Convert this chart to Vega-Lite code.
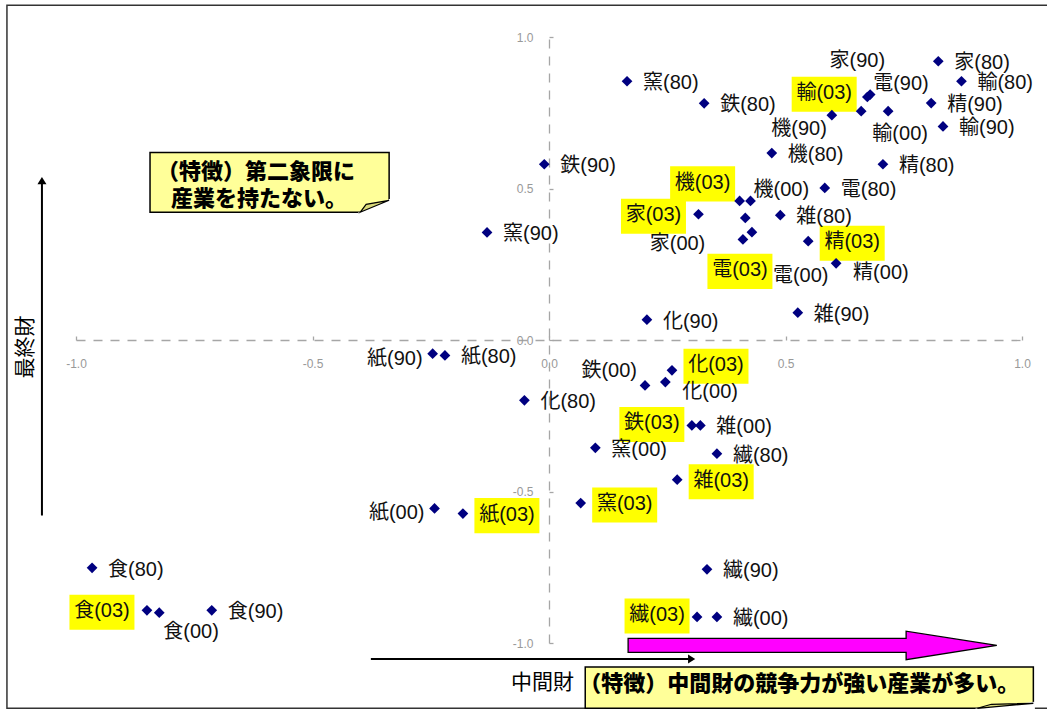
{
  "$schema": "https://vega.github.io/schema/vega-lite/v6.json",
  "width": 946,
  "height": 606,
  "autosize": {"type": "none"},
  "padding": {"left": 76, "top": 37, "right": 25, "bottom": 68},
  "config": {"view": {"stroke": null}, "font": "Liberation Sans, Noto Sans CJK JP"},
  "data": {"values": [
    {"ind": "食", "year": "80", "label": "食(80)", "x": -0.966, "y": -0.752},
    {"ind": "食", "year": "90", "label": "食(90)", "x": -0.713, "y": -0.892},
    {"ind": "食", "year": "00", "label": "食(00)", "x": -0.824, "y": -0.900},
    {"ind": "食", "year": "03", "label": "食(03)", "x": -0.850, "y": -0.892},
    {"ind": "繊", "year": "80", "label": "繊(80)", "x": 0.355, "y": -0.375},
    {"ind": "繊", "year": "90", "label": "繊(90)", "x": 0.334, "y": -0.757},
    {"ind": "繊", "year": "00", "label": "繊(00)", "x": 0.355, "y": -0.914},
    {"ind": "繊", "year": "03", "label": "繊(03)", "x": 0.313, "y": -0.914},
    {"ind": "紙", "year": "80", "label": "紙(80)", "x": -0.220, "y": -0.051},
    {"ind": "紙", "year": "90", "label": "紙(90)", "x": -0.246, "y": -0.045},
    {"ind": "紙", "year": "00", "label": "紙(00)", "x": -0.242, "y": -0.556},
    {"ind": "紙", "year": "03", "label": "紙(03)", "x": -0.182, "y": -0.573},
    {"ind": "化", "year": "80", "label": "化(80)", "x": -0.052, "y": -0.199},
    {"ind": "化", "year": "90", "label": "化(90)", "x": 0.207, "y": 0.067},
    {"ind": "化", "year": "00", "label": "化(00)", "x": 0.246, "y": -0.139},
    {"ind": "化", "year": "03", "label": "化(03)", "x": 0.260, "y": -0.100},
    {"ind": "窯", "year": "80", "label": "窯(80)", "x": 0.165, "y": 0.854},
    {"ind": "窯", "year": "90", "label": "窯(90)", "x": -0.131, "y": 0.355},
    {"ind": "窯", "year": "00", "label": "窯(00)", "x": 0.098, "y": -0.356},
    {"ind": "窯", "year": "03", "label": "窯(03)", "x": 0.067, "y": -0.538},
    {"ind": "鉄", "year": "80", "label": "鉄(80)", "x": 0.328, "y": 0.781},
    {"ind": "鉄", "year": "90", "label": "鉄(90)", "x": -0.010, "y": 0.580},
    {"ind": "鉄", "year": "00", "label": "鉄(00)", "x": 0.203, "y": -0.150},
    {"ind": "鉄", "year": "03", "label": "鉄(03)", "x": 0.302, "y": -0.282},
    {"ind": "機", "year": "80", "label": "機(80)", "x": 0.471, "y": 0.617},
    {"ind": "機", "year": "90", "label": "機(90)", "x": 0.598, "y": 0.742},
    {"ind": "機", "year": "00", "label": "機(00)", "x": 0.426, "y": 0.459},
    {"ind": "機", "year": "03", "label": "機(03)", "x": 0.403, "y": 0.459},
    {"ind": "電", "year": "80", "label": "電(80)", "x": 0.583, "y": 0.502},
    {"ind": "電", "year": "90", "label": "電(90)", "x": 0.679, "y": 0.810},
    {"ind": "電", "year": "00", "label": "電(00)", "x": 0.429, "y": 0.356},
    {"ind": "電", "year": "03", "label": "電(03)", "x": 0.410, "y": 0.332},
    {"ind": "輸", "year": "80", "label": "輸(80)", "x": 0.872, "y": 0.854},
    {"ind": "輸", "year": "90", "label": "輸(90)", "x": 0.833, "y": 0.705},
    {"ind": "輸", "year": "00", "label": "輸(00)", "x": 0.717, "y": 0.755},
    {"ind": "輸", "year": "03", "label": "輸(03)", "x": 0.660, "y": 0.755},
    {"ind": "精", "year": "80", "label": "精(80)", "x": 0.706, "y": 0.580},
    {"ind": "精", "year": "90", "label": "精(90)", "x": 0.808, "y": 0.782},
    {"ind": "精", "year": "00", "label": "精(00)", "x": 0.607, "y": 0.253},
    {"ind": "精", "year": "03", "label": "精(03)", "x": 0.548, "y": 0.326},
    {"ind": "雑", "year": "80", "label": "雑(80)", "x": 0.489, "y": 0.412},
    {"ind": "雑", "year": "90", "label": "雑(90)", "x": 0.526, "y": 0.090},
    {"ind": "雑", "year": "00", "label": "雑(00)", "x": 0.320, "y": -0.282},
    {"ind": "雑", "year": "03", "label": "雑(03)", "x": 0.271, "y": -0.461},
    {"ind": "家", "year": "80", "label": "家(80)", "x": 0.823, "y": 0.920},
    {"ind": "家", "year": "90", "label": "家(90)", "x": 0.673, "y": 0.802},
    {"ind": "家", "year": "00", "label": "家(00)", "x": 0.415, "y": 0.403},
    {"ind": "家", "year": "03", "label": "家(03)", "x": 0.316, "y": 0.415}
  ]},
  "layer": [
    {
      "data": {"values": [{}]},
      "mark": {"type": "rect", "filled": false, "stroke": "#333333", "strokeWidth": 1.5},
      "encoding": {
        "x": {"datum": -1.146, "type": "quantitative"}, "x2": {"datum": 1.06},
        "y": {"datum": 1.105, "type": "quantitative"}, "y2": {"datum": -1.2155}
      }
    },
    {
      "data": {"values": [{}]},
      "mark": {"type": "rect", "fill": "#FFFF99", "stroke": "#000000", "strokeWidth": 1.5},
      "encoding": {
        "x": {"datum": -0.8435, "type": "quantitative"}, "x2": {"datum": -0.338},
        "y": {"datum": 0.6185, "type": "quantitative"}, "y2": {"datum": 0.4215}
      }
    },
    {
      "data": {"values": [{}]},
      "mark": {"type": "point", "shape": "M1,-13L1,1L-31,1Z", "size": 4, "filled": true, "fill": "#FFFFFF", "stroke": "#FFFFFF", "strokeWidth": 1, "opacity": 1},
      "encoding": {"x": {"datum": -0.338, "type": "quantitative"}, "y": {"datum": 0.4215, "type": "quantitative"}}
    },
    {
      "data": {"values": [{}]},
      "mark": {"type": "point", "shape": "M-29,0L0,-12L-23,-8Z", "size": 4, "filled": true, "fill": "#D9D97A", "stroke": "#000000", "strokeWidth": 1.2, "opacity": 1},
      "encoding": {"x": {"datum": -0.338, "type": "quantitative"}, "y": {"datum": 0.4215, "type": "quantitative"}}
    },
    {
      "data": {"values": [{}]},
      "mark": {"type": "text", "text": "（特徴）第二象限に", "align": "left", "baseline": "middle", "font": "Noto Sans CJK JP", "fontWeight": 900, "fontSize": 22, "color": "#000000"},
      "encoding": {"x": {"datum": -0.8287, "type": "quantitative"}, "y": {"datum": 0.555, "type": "quantitative"}}
    },
    {
      "data": {"values": [{}]},
      "mark": {"type": "text", "text": "産業を持たない。", "align": "left", "baseline": "middle", "font": "Noto Sans CJK JP", "fontWeight": 900, "fontSize": 22, "color": "#000000"},
      "encoding": {"x": {"datum": -0.799, "type": "quantitative"}, "y": {"datum": 0.466, "type": "quantitative"}}
    },
    {
      "data": {"values": [{}]},
      "mark": {"type": "rect", "fill": "#FFFF99", "stroke": "#000000", "strokeWidth": 1.5},
      "encoding": {
        "x": {"datum": 0.0766, "type": "quantitative"}, "x2": {"datum": 1.024},
        "y": {"datum": -1.079, "type": "quantitative"}, "y2": {"datum": -1.2155}
      }
    },
    {
      "data": {"values": [{}]},
      "mark": {"type": "point", "shape": "M1,-6L1,1L-58,1Z", "size": 4, "filled": true, "fill": "#FFFFFF", "stroke": "#FFFFFF", "strokeWidth": 1, "opacity": 1},
      "encoding": {"x": {"datum": 1.024, "type": "quantitative"}, "y": {"datum": -1.2155, "type": "quantitative"}}
    },
    {
      "data": {"values": [{}]},
      "mark": {"type": "point", "shape": "M-56,0L0,-5L-42,-4Z", "size": 4, "filled": true, "fill": "#D9D97A", "stroke": "#000000", "strokeWidth": 1.2, "opacity": 1},
      "encoding": {"x": {"datum": 1.024, "type": "quantitative"}, "y": {"datum": -1.2155, "type": "quantitative"}}
    },
    {
      "data": {"values": [{}]},
      "mark": {"type": "text", "text": "（特徴）中間財の競争力が強い産業が多い。", "align": "left", "baseline": "middle", "font": "Noto Sans CJK JP", "fontWeight": 900, "fontSize": 22, "color": "#000000"},
      "encoding": {"x": {"datum": 0.0639, "type": "quantitative"}, "y": {"datum": -1.1347, "type": "quantitative"}}
    },
    {
      "data": {"values": [{}]},
      "mark": {"type": "point", "shape": "M-1,-0.038L0.508,-0.038L0.508,-0.077L1,0L0.508,0.077L0.508,0.038L-1,0.038Z", "size": 135940, "filled": true, "fill": "#FF00FF", "stroke": "#000000", "strokeWidth": 1.3, "opacity": 1},
      "encoding": {"x": {"datum": 0.557, "type": "quantitative"}, "y": {"datum": -1.008, "type": "quantitative"}}
    },
    {
      "data": {"values": [{}]},
      "mark": {"type": "rule", "color": "#000000", "strokeWidth": 2},
      "encoding": {"x": {"datum": -1.072, "type": "quantitative"}, "y": {"datum": -0.579, "type": "quantitative"}, "y2": {"datum": 0.52}}
    },
    {
      "data": {"values": [{}]},
      "mark": {"type": "point", "shape": "M0,-0.8L1,0.8L-1,0.8Z", "size": 81, "filled": true, "color": "#000000", "opacity": 1},
      "encoding": {"x": {"datum": -1.072, "type": "quantitative"}, "y": {"datum": 0.526, "type": "quantitative"}}
    },
    {
      "data": {"values": [{}]},
      "mark": {"type": "rule", "color": "#000000", "strokeWidth": 2},
      "encoding": {"x": {"datum": -0.3766, "type": "quantitative"}, "x2": {"datum": 0.295}, "y": {"datum": -1.053, "type": "quantitative"}}
    },
    {
      "data": {"values": [{}]},
      "mark": {"type": "point", "shape": "M0.8,0L-0.8,-1L-0.8,1Z", "size": 81, "filled": true, "color": "#000000", "opacity": 1},
      "encoding": {"x": {"datum": 0.3016, "type": "quantitative"}, "y": {"datum": -1.053, "type": "quantitative"}}
    },
    {
      "data": {"values": [{}]},
      "mark": {"type": "text", "text": "最終財", "angle": 270, "align": "center", "baseline": "middle", "font": "Noto Sans CJK JP", "fontSize": 21, "color": "#000000"},
      "encoding": {"x": {"datum": -1.106, "type": "quantitative"}, "y": {"datum": -0.023, "type": "quantitative"}}
    },
    {
      "data": {"values": [{}]},
      "mark": {"type": "text", "text": "中間財", "align": "center", "baseline": "middle", "font": "Noto Sans CJK JP", "fontSize": 21, "color": "#000000"},
      "encoding": {"x": {"datum": -0.014, "type": "quantitative"}, "y": {"datum": -1.132, "type": "quantitative"}}
    },
    {
      "encoding": {
        "x": {"field": "x", "type": "quantitative", "scale": {"domain": [-1, 1], "nice": false, "zero": false},
          "axis": {"orient": "bottom", "offset": -303, "values": [-1, -0.5, 0, 0.5, 1], "format": ".1f", "labelExpr": "replace(datum.label, '−', '-')", "title": null, "grid": false,
            "domainColor": "#a6a6a6", "domainDash": [9, 8], "domainWidth": 1.3, "tickColor": "#a6a6a6", "tickSize": -4, "tickWidth": 1.3,
            "labelColor": "#999999", "labelFontSize": 12, "labelFont": "Liberation Sans", "labelPadding": 22, "labelFlush": false, "labelOverlap": false}},
        "y": {"field": "y", "type": "quantitative", "scale": {"domain": [-1, 1], "nice": false, "zero": false},
          "axis": {"orient": "left", "offset": -473, "values": [-1, -0.5, 0, 0.5, 1], "format": ".1f", "labelExpr": "replace(datum.label, '−', '-')", "title": null, "grid": false,
            "domainColor": "#a6a6a6", "domainDash": [9, 8], "domainWidth": 1.3, "tickColor": "#a6a6a6", "tickSize": -4, "tickWidth": 1.3,
            "labelColor": "#999999", "labelFontSize": 12, "labelFont": "Liberation Sans", "labelPadding": 20, "labelFlush": false, "labelOverlap": false}}
      },
      "layer": [
        {"transform": [{"filter": {"field": "label", "oneOf": ["精(03)", "雑(03)", "窯(03)", "紙(03)"]}}],
         "mark": {"type": "point", "shape": "M-1,-0.54L1,-0.54L1,0.54L-1,0.54Z", "size": 4225, "filled": true, "color": "#FFFF00", "opacity": 1, "xOffset": 44, "yOffset": 2}},
        {"transform": [{"filter": {"field": "label", "oneOf": ["化(03)"]}}],
         "mark": {"type": "point", "shape": "M-1,-0.54L1,-0.54L1,0.54L-1,0.54Z", "size": 4225, "filled": true, "color": "#FFFF00", "opacity": 1, "xOffset": 44, "yOffset": -4}},
        {"transform": [{"filter": {"field": "label", "oneOf": ["鉄(03)", "繊(03)"]}}],
         "mark": {"type": "point", "shape": "M-1,-0.54L1,-0.54L1,0.54L-1,0.54Z", "size": 4225, "filled": true, "color": "#FFFF00", "opacity": 1, "xOffset": -40, "yOffset": -1}},
        {"transform": [{"filter": {"field": "label", "oneOf": ["食(03)", "家(03)"]}}],
         "mark": {"type": "point", "shape": "M-1,-0.54L1,-0.54L1,0.54L-1,0.54Z", "size": 4225, "filled": true, "color": "#FFFF00", "opacity": 1, "xOffset": -45, "yOffset": 2}},
        {"transform": [{"filter": {"field": "label", "oneOf": ["機(03)", "輸(03)"]}}],
         "mark": {"type": "point", "shape": "M-1,-0.54L1,-0.54L1,0.54L-1,0.54Z", "size": 4225, "filled": true, "color": "#FFFF00", "opacity": 1, "xOffset": -37, "yOffset": -17}},
        {"transform": [{"filter": {"field": "label", "oneOf": ["電(03)"]}}],
         "mark": {"type": "point", "shape": "M-1,-0.54L1,-0.54L1,0.54L-1,0.54Z", "size": 4225, "filled": true, "color": "#FFFF00", "opacity": 1, "xOffset": -3, "yOffset": 32}},
        {"mark": {"type": "point", "shape": "diamond", "filled": true, "color": "#000080", "size": 115, "opacity": 1}},
        {"transform": [{"filter": {"field": "label", "oneOf": ["窯(80)", "鉄(90)", "窯(90)", "鉄(80)", "家(80)", "輸(80)", "精(90)", "輸(90)", "精(80)", "電(80)", "雑(80)", "機(80)", "化(90)", "雑(90)", "紙(80)", "化(80)", "雑(00)", "窯(00)", "繊(80)", "繊(90)", "繊(00)", "食(80)", "食(90)"]}}],
         "mark": {"type": "text", "align": "left", "baseline": "middle", "dx": 16, "dy": 2, "fontSize": 20, "color": "#111111"},
         "encoding": {"text": {"field": "label"}}},
        {"transform": [{"filter": {"field": "label", "oneOf": ["紙(90)", "紙(00)"]}}],
         "mark": {"type": "text", "align": "right", "baseline": "middle", "dx": -10, "dy": 5, "fontSize": 20, "color": "#111111"},
         "encoding": {"text": {"field": "label"}}},
        {"transform": [{"filter": {"field": "label", "oneOf": ["家(90)"]}}],
         "mark": {"type": "text", "align": "center", "baseline": "middle", "dx": -10, "dy": -36, "fontSize": 20, "color": "#111111"},
         "encoding": {"text": {"field": "label"}}},
        {"transform": [{"filter": {"field": "label", "oneOf": ["電(90)", "機(00)"]}}],
         "mark": {"type": "text", "align": "left", "baseline": "middle", "dx": 3, "dy": -11, "fontSize": 20, "color": "#111111"},
         "encoding": {"text": {"field": "label"}}},
        {"transform": [{"filter": {"field": "label", "oneOf": ["機(90)"]}}],
         "mark": {"type": "text", "align": "right", "baseline": "middle", "dx": -5, "dy": 14, "fontSize": 20, "color": "#111111"},
         "encoding": {"text": {"field": "label"}}},
        {"transform": [{"filter": {"field": "label", "oneOf": ["輸(00)"]}}],
         "mark": {"type": "text", "align": "center", "baseline": "middle", "dx": 12, "dy": 23, "fontSize": 20, "color": "#111111"},
         "encoding": {"text": {"field": "label"}}},
        {"transform": [{"filter": {"field": "label", "oneOf": ["家(00)"]}}],
         "mark": {"type": "text", "align": "right", "baseline": "middle", "dx": -40, "dy": 26, "fontSize": 20, "color": "#111111"},
         "encoding": {"text": {"field": "label"}}},
        {"transform": [{"filter": {"field": "label", "oneOf": ["電(00)"]}}],
         "mark": {"type": "text", "align": "left", "baseline": "middle", "dx": 21, "dy": 44, "fontSize": 20, "color": "#111111"},
         "encoding": {"text": {"field": "label"}}},
        {"transform": [{"filter": {"field": "label", "oneOf": ["精(00)", "化(00)"]}}],
         "mark": {"type": "text", "align": "left", "baseline": "middle", "dx": 17, "dy": 10, "fontSize": 20, "color": "#111111"},
         "encoding": {"text": {"field": "label"}}},
        {"transform": [{"filter": {"field": "label", "oneOf": ["鉄(00)"]}}],
         "mark": {"type": "text", "align": "right", "baseline": "middle", "dx": -8, "dy": -14, "fontSize": 20, "color": "#111111"},
         "encoding": {"text": {"field": "label"}}},
        {"transform": [{"filter": {"field": "label", "oneOf": ["食(00)"]}}],
         "mark": {"type": "text", "align": "left", "baseline": "middle", "dx": 4, "dy": 19, "fontSize": 20, "color": "#111111"},
         "encoding": {"text": {"field": "label"}}},
        {"transform": [{"filter": {"field": "label", "oneOf": ["精(03)", "雑(03)", "窯(03)", "紙(03)"]}}],
         "mark": {"type": "text", "align": "center", "baseline": "middle", "dx": 44, "dy": 1, "fontSize": 20, "color": "#111111"},
         "encoding": {"text": {"field": "label"}}},
        {"transform": [{"filter": {"field": "label", "oneOf": ["化(03)"]}}],
         "mark": {"type": "text", "align": "center", "baseline": "middle", "dx": 44, "dy": -5, "fontSize": 20, "color": "#111111"},
         "encoding": {"text": {"field": "label"}}},
        {"transform": [{"filter": {"field": "label", "oneOf": ["鉄(03)", "繊(03)"]}}],
         "mark": {"type": "text", "align": "center", "baseline": "middle", "dx": -40, "dy": -2, "fontSize": 20, "color": "#111111"},
         "encoding": {"text": {"field": "label"}}},
        {"transform": [{"filter": {"field": "label", "oneOf": ["食(03)", "家(03)"]}}],
         "mark": {"type": "text", "align": "center", "baseline": "middle", "dx": -45, "dy": 1, "fontSize": 20, "color": "#111111"},
         "encoding": {"text": {"field": "label"}}},
        {"transform": [{"filter": {"field": "label", "oneOf": ["機(03)", "輸(03)"]}}],
         "mark": {"type": "text", "align": "center", "baseline": "middle", "dx": -37, "dy": -18, "fontSize": 20, "color": "#111111"},
         "encoding": {"text": {"field": "label"}}},
        {"transform": [{"filter": {"field": "label", "oneOf": ["電(03)"]}}],
         "mark": {"type": "text", "align": "center", "baseline": "middle", "dx": -3, "dy": 31, "fontSize": 20, "color": "#111111"},
         "encoding": {"text": {"field": "label"}}}
      ]
    }
  ]
}
